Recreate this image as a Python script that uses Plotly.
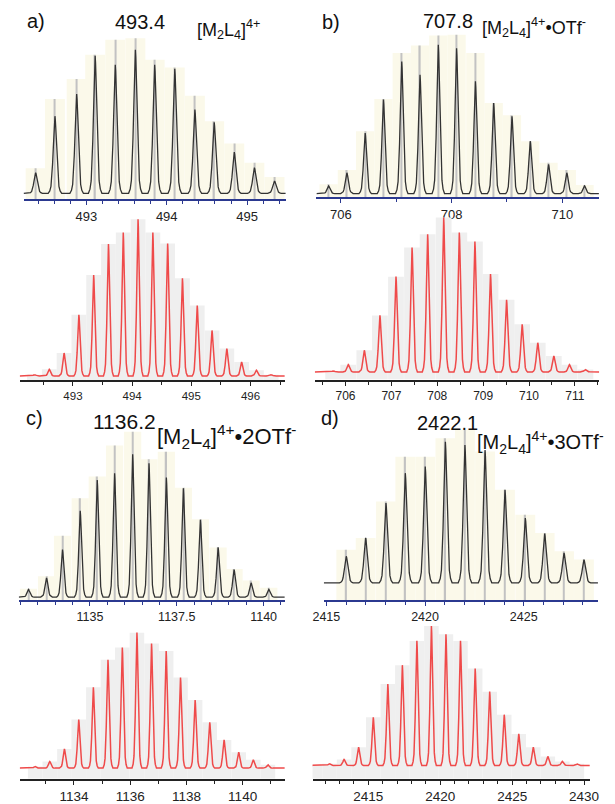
import plotly.graph_objects as go

W, H = 615, 804
FONT = "Liberation Sans, Arial, sans-serif"

# ---------------- data (m/z, relative intensity %) ----------------
a_exp_mz = [492.37, 492.61, 492.88, 493.11, 493.36, 493.61, 493.85, 494.10, 494.35, 494.59, 494.84, 495.09, 495.34]
a_exp_stick = [16.1, 60.8, 73.7, 89.3, 98.9, 100, 86.1, 81.1, 62.9, 46.4, 32.1, 19.7, 10.5]
a_exp_prof = [13.3, 49.7, 64.0, 88.6, 82.9, 92.5, 82.9, 80.3, 54.0, 45.8, 26.5, 16.5, 7.9]
a_exp_ticks = [493, 494, 495]

a_sim_mz = [492.35, 492.60, 492.85, 493.10, 493.35, 493.60, 493.85, 494.10, 494.35,
            494.60, 494.85, 495.10, 495.35, 495.60, 495.85, 496.10, 496.35]
a_sim_int = [0.8, 4.2, 14.6, 39.0, 64.4, 84.1, 91.5, 100, 91.5, 84.5, 62.3, 44.9, 29.0, 17.4, 8.9, 3.6, 0.8]
a_sim_ticks = [493, 494, 495, 496]

b_exp_mz = [705.78, 706.11, 706.44, 706.77, 707.10, 707.43, 707.76, 708.09, 708.43, 708.76,
            709.09, 709.42, 709.75, 710.08, 710.40]
b_exp_stick = [5.9, 14.8, 39.3, 59.6, 88.5, 93.3, 99.6, 100, 88.5, 57.1, 49.4, 33.0, 19.4, 14.8, 5.4]
b_exp_prof = [4.8, 13.1, 38.2, 59.2, 83.2, 74.9, 93.7, 91.6, 70.7, 57.1, 48.7, 33.0, 18.4, 13.1, 4.8]
b_exp_ticks = [706, 708, 710]

b_sim_mz = [705.73, 706.06, 706.41, 706.75, 707.10, 707.45, 707.79, 708.14, 708.48, 708.82,
            709.16, 709.51, 709.85, 710.19, 710.54, 710.88, 711.23]
b_sim_int = [0.6, 4.7, 14.0, 36.6, 61.7, 80.6, 89.2, 100, 90.3, 84.5, 63.4, 46.7, 30.8, 18.9, 10.3, 4.7, 1.5]
b_sim_ticks = [706, 707, 708, 709, 710, 711]

c_exp_mz = [1133.23, 1133.75, 1134.21, 1134.72, 1135.21, 1135.71, 1136.23, 1136.70, 1137.20,
            1137.69, 1138.18, 1138.69, 1139.15, 1139.64, 1140.15]
c_exp_stick = [5.0, 12.6, 37.1, 59.8, 72.9, 91.6, 100, 83.3, 87.8, 66.1, 47.0, 30.0, 16.9, 10.0, 5.6]
c_exp_prof = [4.6, 11.6, 28.7, 52.2, 70.8, 74.9, 86.3, 80.9, 72.3, 65.8, 46.7, 30.1, 16.6, 8.6, 4.6]
c_exp_ticks = [1135, 1137.5, 1140]

c_sim_mz = [1132.62, 1133.14, 1133.66, 1134.17, 1134.69, 1135.21, 1135.72, 1136.24, 1136.76,
            1137.28, 1137.79, 1138.31, 1138.83, 1139.34, 1139.86, 1140.38, 1140.90]
c_sim_int = [1.2, 4.9, 14.2, 35.8, 59.6, 79.9, 89.0, 100, 91.9, 86.5, 66.9, 50.2, 33.8, 20.8, 11.8, 6.1, 2.5]
c_sim_ticks = [1134, 1136, 1138, 1140]

d_exp_mz = [2416.01, 2416.99, 2418.02, 2419.00, 2420.01, 2421.03, 2422.02, 2423.04, 2424.05,
            2425.08, 2426.06, 2427.04, 2428.05]
d_exp_stick = [21.7, 29.4, 53.3, 82.6, 82.6, 94.6, 100, 85.9, 60.9, 44.6, 32.6, 20.7, 15.2]
d_exp_prof = [17.4, 29.4, 52.2, 71.8, 76.1, 92.4, 90.2, 87.0, 60.9, 42.4, 32.2, 19.6, 15.2]
d_exp_ticks = [2415, 2420, 2425]

d_sim_mz = [2411.30, 2412.31, 2413.32, 2414.33, 2415.35, 2416.36, 2417.37, 2418.38, 2419.39, 2420.40,
            2421.41, 2422.43, 2423.44, 2424.45, 2425.46, 2426.47, 2427.48, 2428.49, 2429.50]
d_sim_int = [0.3, 1.2, 4.3, 13.1, 34.5, 58.3, 71.9, 89.3, 100, 94.0, 89.3, 69.5, 52.9, 36.4, 22.6,
             13.1, 6.4, 2.9, 1.2]
d_sim_ticks = [2415, 2420, 2425, 2430]

# peak line-shape template (offset in units of isotope spacing, fraction of height)
SHAPE_DX = [-0.34, -0.26, -0.2, -0.16, -0.12, -0.08, -0.05, -0.02, 0, 0.02, 0.05, 0.08, 0.12, 0.16, 0.2, 0.26, 0.34]
SHAPE_FR = [0, 0.03, 0.09, 0.2, 0.38, 0.6, 0.8, 0.95, 1, 0.95, 0.8, 0.6, 0.38, 0.2, 0.09, 0.03, 0]

EXP_LINE = "#333333"
STICK = "#c2c2c2"
EXP_BG = "#fbf9ea"
SIM_LINE = "#ef4a4a"
SIM_BG = "#efefef"
BLUE = "#2b3990"

# panel geometry (pixels) ----------------------------------------
panels = [
    dict(mz=a_exp_mz, stick=a_exp_stick, prof=a_exp_prof, ticks=a_exp_ticks, xpx=(13, 284),
         xr=(492.22, 495.48), yb=200, base=194, peak=38.3, minor=0.2, fs=13),
    dict(mz=a_sim_mz, prof=a_sim_int, ticks=a_sim_ticks, xpx=(9, 283), xr=(492.10, 496.58),
         yb=381.7, base=377.3, peak=220, minor=0.5, fs=11.5),
    dict(mz=b_exp_mz, stick=b_exp_stick, prof=b_exp_prof, ticks=b_exp_ticks, xpx=(315.7, 607.7),
         xr=(705.56, 710.66), yb=197.7, base=194.3, peak=35, minor=1, fs=13),
    dict(mz=b_sim_mz, prof=b_sim_int, ticks=b_sim_ticks, xpx=(314, 608), xr=(705.33, 711.53),
         yb=381, base=373.3, peak=218.3, minor=0.5, fs=12),
    dict(mz=c_exp_mz, stick=c_exp_stick, prof=c_exp_prof, ticks=c_exp_ticks, xpx=(8, 283),
         xr=(1132.95, 1140.61), yb=602.7, base=599.3, peak=433.3, minor=0.5, fs=12.5),
    dict(mz=c_sim_mz, prof=c_sim_int, ticks=c_sim_ticks, xpx=(9, 283), xr=(1132.07, 1141.5),
         yb=781.7, base=771, peak=635, minor=1, fs=13.5),
    dict(mz=d_exp_mz, stick=d_exp_stick, prof=d_exp_prof, ticks=d_exp_ticks, xpx=(323.3, 606.7),
         xr=(2414.87, 2428.76), yb=602.7, base=585, peak=431.7, minor=1, fs=12.5),
    dict(mz=d_sim_mz, prof=d_sim_int, ticks=d_sim_ticks, xpx=(311.7, 598.3), xr=(2411.13, 2430.4),
         yb=781.7, base=768.3, peak=628.3, minor=1, fs=13.5),
]

fig = go.Figure()
layout = {}

for i, p in enumerate(panels, start=1):
    xa = "x" if i == 1 else f"x{i}"
    ya = "y" if i == 1 else f"y{i}"
    is_exp = "stick" in p
    k = (p["base"] - p["peak"]) / 100.0          # px per % unit
    top = p["peak"] - 6
    ymin = -(p["yb"] - p["base"]) / k
    ymax = (p["base"] - top) / k
    mz = p["mz"]
    spacing = (mz[-1] - mz[0]) / (len(mz) - 1)
    pxu = (p["xpx"][1] - p["xpx"][0]) / (p["xr"][1] - p["xr"][0])

    env = p["stick"] if is_exp else p["prof"]
    fig.add_trace(go.Bar(x=mz, y=[v - ymin for v in env], base=ymin, width=spacing,
                         marker=dict(color=EXP_BG if is_exp else SIM_BG, line=dict(width=0)),
                         xaxis=xa, yaxis=ya, hoverinfo="skip", showlegend=False))
    if is_exp:
        fig.add_trace(go.Bar(x=mz, y=[v - ymin for v in p["stick"]], base=ymin, width=1.3 / pxu,
                             marker=dict(color=STICK, line=dict(width=0)),
                             xaxis=xa, yaxis=ya, hoverinfo="skip", showlegend=False))
    xs, ys = [p["xr"][0]], [0]
    for m, v in zip(mz, p["prof"]):
        for dx, fr in zip(SHAPE_DX, SHAPE_FR):
            xs.append(m + dx * spacing)
            ys.append(v * fr)
    xs.append(p["xr"][1]); ys.append(0)
    fig.add_trace(go.Scatter(x=xs, y=ys, mode="lines",
                             line=dict(color=EXP_LINE if is_exp else SIM_LINE,
                                       width=1.3 if is_exp else 1.5),
                             xaxis=xa, yaxis=ya, hoverinfo="skip", showlegend=False))

    lc = BLUE if is_exp else "#222222"
    layout["xaxis" if i == 1 else f"xaxis{i}"] = dict(
        domain=[p["xpx"][0] / W, p["xpx"][1] / W], anchor=ya, range=list(p["xr"]),
        showline=True, linecolor=lc, linewidth=2, showgrid=False, zeroline=False,
        ticks="outside", ticklen=4, tickwidth=1, tickcolor=lc,
        tickmode="array", tickvals=p["ticks"], ticktext=[str(t) for t in p["ticks"]],
        minor=dict(dtick=p["minor"], tick0=p["ticks"][0], ticks="outside", ticklen=3,
                   tickcolor=lc, showgrid=False),
        tickfont=dict(family=FONT, size=p["fs"], color="#222222"), fixedrange=True)
    layout["yaxis" if i == 1 else f"yaxis{i}"] = dict(
        domain=[1 - p["yb"] / H, 1 - top / H], anchor=xa, range=[ymin, ymax],
        visible=False, fixedrange=True)

ion = "[M<sub>2</sub>L<sub>4</sub>]<sup>4+</sup>"
texts = [
    ("a)", 26, 21, 20, "center"), ("493.4", 133, 22, 20, "center"), (ion, 190, 30, 18, "left"),
    ("b)", 331, 22, 20, "center"), ("707.8", 452, 21, 20, "center"),
    (ion + "•OTf<sup>-</sup>", 485, 28, 18, "left"),
    ("c)", 24, 420, 20, "center"), ("1136.2", 117, 423, 21, "center"),
    (ion + "•2OTf<sup>-</sup>", 149, 438, 22, "left"),
    ("d)", 330, 420, 20, "center"), ("2422.1", 451, 425, 20, "center"),
    (ion + "•3OTf<sup>-</sup>", 480, 444, 20, "left"),
]
annotations = [dict(text=t, x=x / W, y=1 - y / H, xref="paper", yref="paper", showarrow=False,
                    xanchor=a, yanchor="middle", font=dict(family=FONT, size=s, color="#111111"))
               for t, x, y, s, a in texts]

fig.update_layout(width=W, height=H, margin=dict(l=0, r=0, t=0, b=0), autosize=False,
                  paper_bgcolor="white", plot_bgcolor="white", barmode="overlay",
                  showlegend=False, annotations=annotations, **layout)

fig.write_html("out.html", config={"displayModeBar": False},
               post_script="document.body.style.margin='0';document.body.style.padding='0';")
